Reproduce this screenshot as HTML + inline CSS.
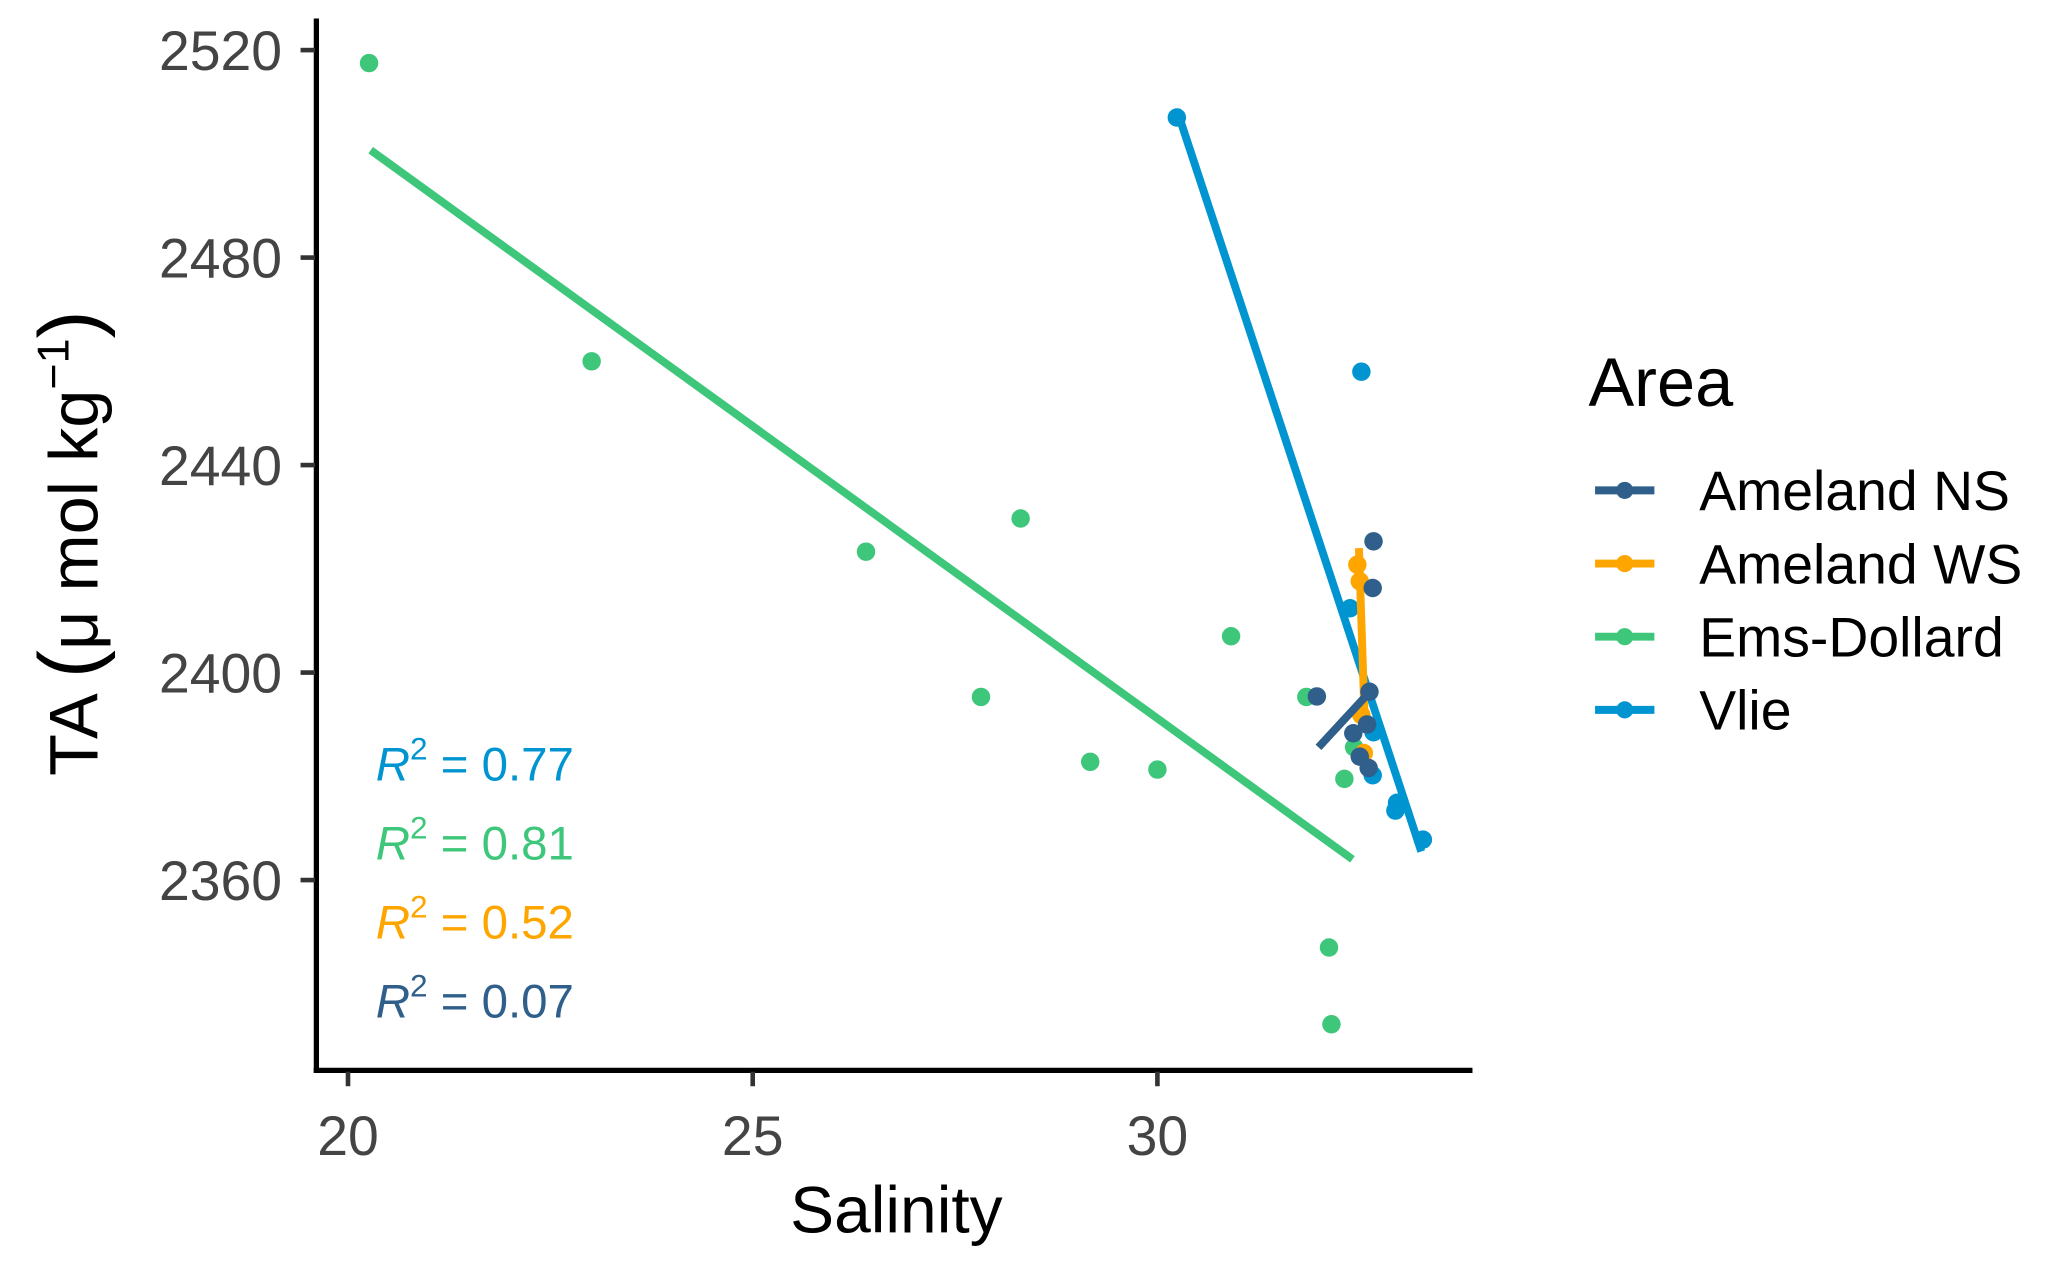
<!DOCTYPE html>
<html><head><meta charset="utf-8"><style>
html,body{margin:0;padding:0;background:#fff}
svg{display:block;font-family:"Liberation Sans",Arial,sans-serif}
</style></head><body>
<svg id="chart" width="2067" height="1270" viewBox="0 0 1568 963.4" xmlns="http://www.w3.org/2000/svg">
<rect width="1568" height="963.4" fill="#fff"/>
<g id="plot"></g>
<g id="axes">
  <line x1="240" y1="14" x2="240" y2="814" stroke="#000" stroke-width="4"/>
  <line x1="238" y1="812" x2="1117" y2="812" stroke="#000" stroke-width="4"/>
</g>
<text x="680" y="935" font-size="50" text-anchor="middle" fill="#000">Salinity</text>
<text transform="translate(74,412) rotate(-90)" font-size="52" text-anchor="middle" fill="#000">TA <tspan font-size="64">(</tspan>μ mol kg<tspan font-size="34" dy="-22">−1</tspan><tspan dy="22" font-size="64">)</tspan></text>
<g id="r2" font-size="36">
  <text x="285" y="592" fill="#0095d0"><tspan font-style="italic">R</tspan><tspan font-size="24" dy="-16">2</tspan><tspan dy="16"> = 0.77</tspan></text>
  <text x="285" y="652" fill="#3ec77a"><tspan font-style="italic">R</tspan><tspan font-size="24" dy="-16">2</tspan><tspan dy="16"> = 0.81</tspan></text>
  <text x="285" y="712" fill="#ffa500"><tspan font-style="italic">R</tspan><tspan font-size="24" dy="-16">2</tspan><tspan dy="16"> = 0.52</tspan></text>
  <text x="285" y="772" fill="#2f5f8a"><tspan font-style="italic">R</tspan><tspan font-size="24" dy="-16">2</tspan><tspan dy="16"> = 0.07</tspan></text>
</g>
<g id="legend">
  <text x="1205" y="308" font-size="52" fill="#000">Area</text>
</g>
</svg>
<script>
const xTicks = [20, 25, 30];
const yTicks = [2360, 2400, 2440, 2480, 2520];
const seriesNames = ["Ameland NS", "Ameland WS", "Ems-Dollard", "Vlie"];
const seriesColors = ["#2f5f8a", "#ffa500", "#3ec77a", "#0095d0"];
const nsSal = [32.67, 32.66, 31.97, 32.62, 32.59, 32.42, 32.50, 32.61];
const nsTA  = [2425.3, 2416.3, 2395.4, 2396.3, 2390.0, 2388.3, 2383.8, 2381.6];
const wsSal = [32.47, 32.50, 32.52, 32.55];
const wsTA  = [2420.8, 2417.6, 2391.8, 2384.5];
const emsSal = [20.26, 23.01, 26.40, 28.31, 27.82, 29.17, 30.0, 30.91, 31.84, 32.43, 32.31, 32.12, 32.15];
const emsTA  = [2517.5, 2460, 2423.3, 2429.7, 2395.3, 2382.8, 2381.3, 2407.0, 2395.3, 2385.6, 2379.5, 2347, 2332.2];
const vlieSal = [30.24, 32.52, 32.38, 32.67, 32.66, 32.96, 32.94, 33.28];
const vlieTA  = [2507.0, 2458.0, 2412.4, 2388.5, 2380.2, 2374.9, 2373.4, 2367.8];
const fitSal = [[31.99, 32.69], [32.49, 32.56], [20.28, 32.41], [30.24, 33.26]];
const fitTA  = [[2385.6, 2397.4], [2424, 2391], [2500.7, 2364], [2508.5, 2365.5]];

const NS = "http://www.w3.org/2000/svg";
function xs(v){ return 264 + (v - 20) * 61.4; }
function ys(v){ return 38 + (2520 - v) * 3.935; }
function mk(tag, attrs, parent){ const e = document.createElementNS(NS, tag); for (const k in attrs) e.setAttribute(k, attrs[k]); parent.appendChild(e); return e; }

const axes = document.getElementById('axes');
xTicks.forEach(t => {
  const l = mk('line', {x1: xs(t), x2: xs(t), y1: 813, y2: 824, stroke: '#333', 'stroke-width': 3.5}, axes);
  
  
  const tx = mk('text', {x: xs(t), y: 876, 'font-size': 42, 'text-anchor': 'middle', fill: '#444'}, axes);
  tx.textContent = t;
  
  
});
yTicks.forEach(t => {
  const l = mk('line', {x1: 228, x2: 239, y1: ys(t), y2: ys(t), stroke: '#333', 'stroke-width': 3.5}, axes);
  
  
  const tx = mk('text', {x: 214, y: ys(t) + 15, 'font-size': 42, 'text-anchor': 'end', fill: '#444'}, axes);
  tx.textContent = t;
  
  
});

const plot = document.getElementById('plot');
const sal = [nsSal, wsSal, emsSal, vlieSal];
const ta = [nsTA, wsTA, emsTA, vlieTA];
const order = [2, 3, 1, 0];
order.forEach(i => {
  const g = mk('g', {}, plot);
  
  
  sal[i].forEach((s, j) => {
    const c = mk('circle', {cx: xs(s), cy: ys(ta[i][j]), r: 7, fill: seriesColors[i]}, g);
    
    
  });
  const ln = mk('line', {x1: xs(fitSal[i][0]), y1: ys(fitTA[i][0]), x2: xs(fitSal[i][1]), y2: ys(fitTA[i][1]), stroke: seriesColors[i], 'stroke-width': 6}, g);
  
  
});

const leg = document.getElementById('legend');
seriesNames.forEach((n, i) => {
  const y = 372 + i * 55.5;
  const g = mk('g', {}, leg);
  
  
  mk('line', {x1: 1210, x2: 1255, y1: y, y2: y, stroke: seriesColors[i], 'stroke-width': 6}, g);
  mk('circle', {cx: 1232.5, cy: y, r: 6.5, fill: seriesColors[i]}, g);
  const t = mk('text', {x: 1289, y: y + 15, 'font-size': 42, fill: '#000'}, g);
  t.textContent = n;
});
</script>
</body></html>
